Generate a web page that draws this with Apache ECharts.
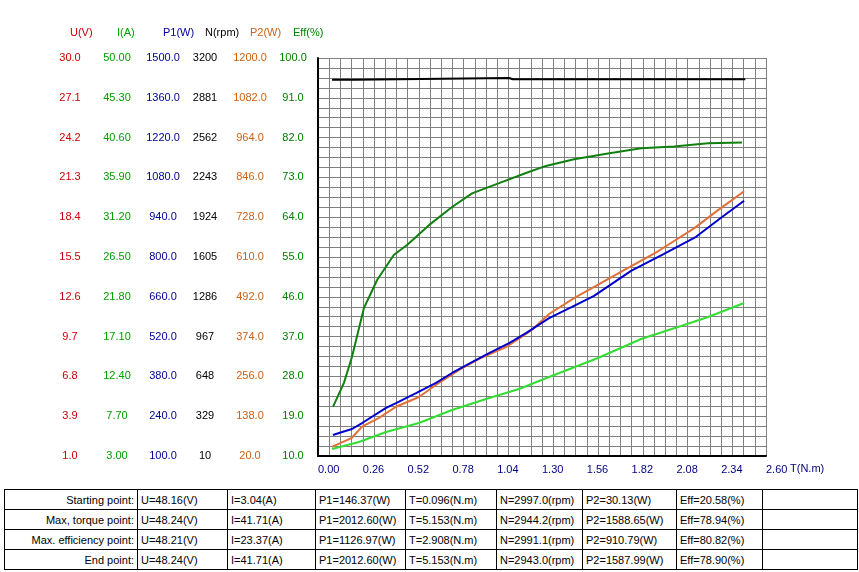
<!DOCTYPE html>
<html>
<head>
<meta charset="utf-8">
<script src="https://cdn.jsdelivr.net/npm/echarts@6/dist/echarts.min.js"></script>
<style>
  body { margin: 0; background: #fff; font-family: "Liberation Sans", Arial, sans-serif; }
  #chart { position: absolute; left: 0; top: 0; width: 859px; height: 486px; }
  table { position: absolute; left: 4px; top: 489px; border-collapse: collapse; font-size: 11px; table-layout: fixed; }
  td { border: 1px solid #000; height: 19px; padding: 0 3px; white-space: nowrap; }
  td:first-child { text-align: right; }
</style>
</head>
<body>
<div id="chart"></div>
<table id="tbl"></table>
<script>
// tick labels, bottom to top
var uTicks   = ['1.0','3.9','6.8','9.7','12.6','15.5','18.4','21.3','24.2','27.1','30.0']
var iTicks   = ['3.00','7.70','12.40','17.10','21.80','26.50','31.20','35.90','40.60','45.30','50.00']
var p1Ticks  = ['100.0','240.0','380.0','520.0','660.0','800.0','940.0','1080.0','1220.0','1360.0','1500.0']
var nTicks   = ['10','329','648','967','1286','1605','1924','2243','2562','2881','3200']
var p2Ticks  = ['20.0','138.0','256.0','374.0','492.0','610.0','728.0','846.0','964.0','1082.0','1200.0']
var effTicks = ['10.0','19.0','28.0','37.0','46.0','55.0','64.0','73.0','82.0','91.0','100.0']

// curves: torque (N.m) and value
var effT = [0.087,0.151,0.197,0.267,0.343,0.441,0.517,0.644,0.778,0.894,1.051,1.207,1.323,1.486,1.683,1.875,2.066,2.264,2.461]
var eff  = [21.1,26.6,32.4,43.5,49.8,55.5,57.7,62.2,66.3,69.4,71.7,74.0,75.6,77.1,78.4,79.6,80.0,80.7,80.9]
var p1T  = [0.087,0.122,0.197,0.256,0.395,0.453,0.569,0.685,0.778,0.894,0.993,1.109,1.207,1.341,1.486,1.602,1.817,2.008,2.194,2.339,2.473]
var p1   = [174,181,195,216,269,286,321,357,392,430,462,497,532,585,628,663,751,811,871,938,998]
var p2T  = [0.081,0.197,0.256,0.354,0.453,0.586,0.702,0.819,0.935,1.091,1.242,1.341,1.486,1.776,1.973,2.182,2.322,2.473]
var p2   = [47,74,107,133,166,195,237,275,308,343,394,441,488,571,627,695,749,805]
var iT   = [0.081,0.238,0.395,0.586,0.778,0.975,1.167,1.341,1.625,1.875,2.107,2.264,2.473]
var cur  = [3.83,4.65,5.83,6.90,8.43,9.73,10.91,12.33,14.57,16.82,18.36,19.42,21.07]
var nT   = [0.081,0.21,0.22,1.11,1.13,2.48]
var speed = [3025,3026,3040,3040,3030,3030]

var xTicks = ['0.00','0.26','0.52','0.78','1.04','1.30','1.56','1.82','2.08','2.34','2.60']

var rowNames = ['Starting point:', 'Max, torque point:', 'Max. efficiency point:', 'End point:']
var rowU   = ['48.16','48.24','48.21','48.24']
var rowI   = ['3.04','41.71','23.37','41.71']
var rowP1  = ['146.37','2012.60','1126.97','2012.60']
var rowT   = ['0.096','5.153','2.908','5.153']
var rowN   = ['2997.0','2944.2','2991.1','2943.0']
var rowP2  = ['30.13','1588.65','910.79','1587.99']
var rowEff = ['20.58','78.94','80.82','78.90']

var axes = [
    { name: 'U(V)',   ticks: uTicks,   cx: 70,  color: '#cc0000' },
    { name: 'I(A)',   ticks: iTicks,   cx: 117, color: '#00a000' },
    { name: 'P1(W)',  ticks: p1Ticks,  cx: 163, color: '#000099' },
    { name: 'N(rpm)', ticks: nTicks,   cx: 205, color: '#000000' },
    { name: 'P2(W)',  ticks: p2Ticks,  cx: 250, color: '#d06010' },
    { name: 'Eff(%)', ticks: effTicks, cx: 293, color: '#008000' }
]
var axisLeft = 318

var yAxis = []
var graphic = []
axes.forEach(function (a, k) {
    var isEff = k === axes.length - 1
    yAxis.push({
        type: 'value', min: 0, max: 10, interval: 1,
        position: 'left',
        offset: isEff ? 0 : axisLeft - a.cx,
        axisLine: { show: isEff, lineStyle: { color: '#000', width: 2 } },
        axisTick: { show: false },
        axisLabel: {
            margin: isEff ? axisLeft - a.cx : 0, align: 'center', color: a.color, fontSize: 11,
            formatter: function (v) { return a.ticks[Math.round(v)] }
        },
        splitLine: { show: isEff, lineStyle: { color: '#808080', width: 1 } },
        minorTick: { show: false, splitNumber: 4 },
        minorSplitLine: { show: isEff, lineStyle: { color: '#808080', width: 1 } }
    })
    graphic.push({ type: 'text', left: a.cx, top: 27,
        style: { text: a.name, fill: a.color, font: '11px "Liberation Sans", Arial', textAlign: 'center' } })
})
// hidden value axes carrying the real scales
axes.forEach(function (a) {
    yAxis.push({ type: 'value', show: false, min: parseFloat(a.ticks[0]), max: parseFloat(a.ticks[10]) })
})
graphic.push({ type: 'text', left: 790, top: 463,
    style: { text: 'T(N.m)', fill: '#000080', font: '11px "Liberation Sans", Arial' } })

function pairs(xs, ys) { return xs.map(function (x, i) { return [x, ys[i]] }) }
function line(name, axisIdx, xs, ys, color) {
    return { name: name, type: 'line', yAxisIndex: 6 + axisIdx, data: pairs(xs, ys),
        symbol: 'none', lineStyle: { color: color, width: 2 }, animation: false }
}

var chart = echarts.init(document.getElementById('chart'))
chart.setOption({
    animation: false,
    grid: { left: axisLeft, top: 58, right: 93, bottom: 30 },
    graphic: graphic,
    xAxis: {
        type: 'value', min: 0, max: 2.6, interval: 0.26,
        axisLine: { onZero: false, lineStyle: { color: '#000', width: 2 } },
        axisTick: { show: false },
        axisLabel: { align: 'left', color: '#000080', fontSize: 11, margin: 8,
            formatter: function (v) { return xTicks[Math.round(v / 0.26)] } },
        splitLine: { show: true, lineStyle: { color: '#808080', width: 1 } },
        minorTick: { show: false, splitNumber: 4 },
        minorSplitLine: { show: true, lineStyle: { color: '#808080', width: 1 } }
    },
    yAxis: yAxis,
    series: [
        line('N', 3, nT, speed, '#000000'),
        line('Eff', 5, effT, eff, '#108010'),
        line('I', 1, iT, cur, '#33dd33'),
        line('P2', 4, p2T, p2, '#e07038'),
        line('P1', 2, p1T, p1, '#0000cc')
    ]
})

var widths = [133, 90, 88, 90, 91, 86, 94, 86, 95]
var tbl = document.getElementById('tbl')
var cg = '<colgroup>' + widths.map(function (w) { return '<col style="width:' + w + 'px">' }).join('') + '</colgroup>'
var rows = rowNames.map(function (n, i) {
    var cells = [n, 'U=' + rowU[i] + '(V)', 'I=' + rowI[i] + '(A)', 'P1=' + rowP1[i] + '(W)',
        'T=' + rowT[i] + '(N.m)', 'N=' + rowN[i] + '(rpm)', 'P2=' + rowP2[i] + '(W)', 'Eff=' + rowEff[i] + '(%)', '']
    return '<tr>' + cells.map(function (c) { return '<td>' + c + '</td>' }).join('') + '</tr>'
})
tbl.innerHTML = cg + rows.join('')
</script>
</body>
</html>
